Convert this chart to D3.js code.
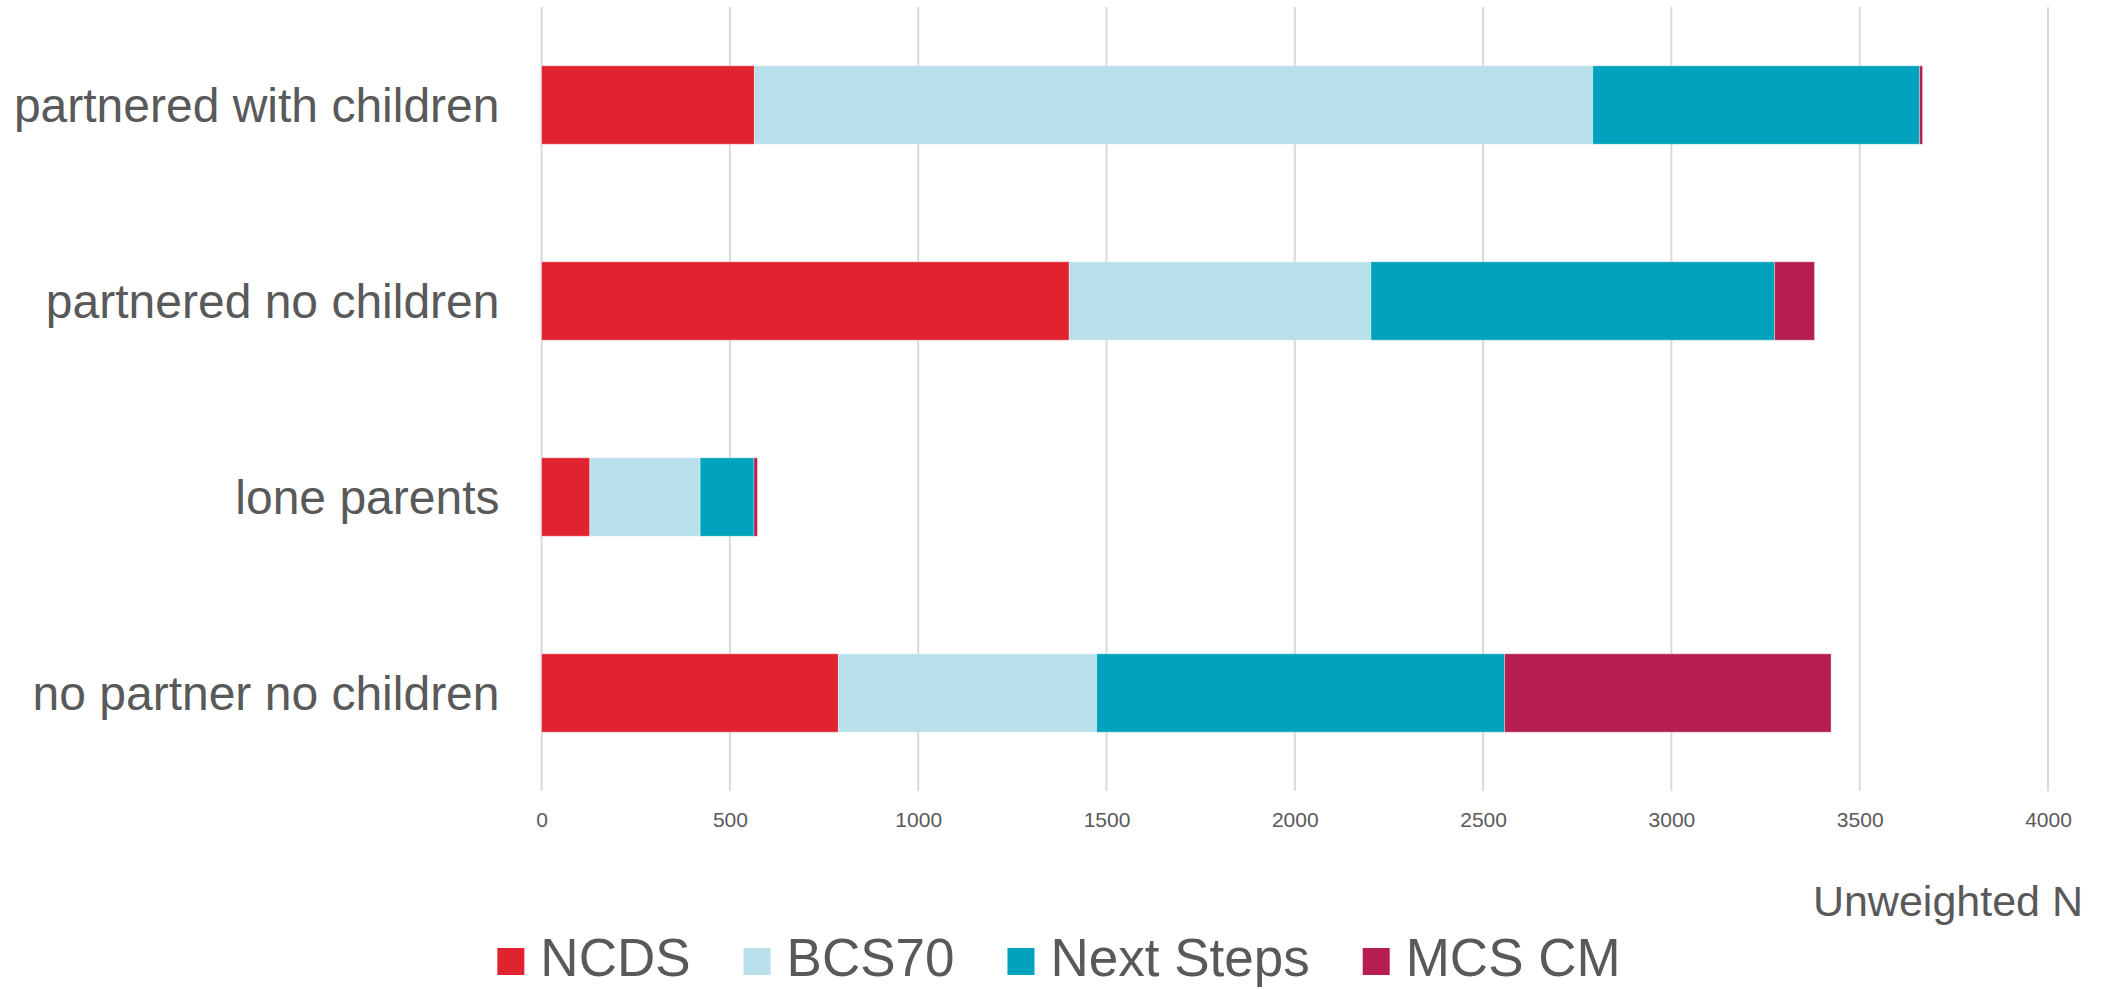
<!DOCTYPE html>
<html>
<head>
<meta charset="utf-8">
<script src="https://cdn.jsdelivr.net/npm/d3@7"></script>
<style>
  html, body { margin: 0; padding: 0; background: #fff; }
  svg { display: block; font-family: "Liberation Sans", Arial, sans-serif; }
</style>
</head>
<body>
<svg id="chart" width="2105" height="990"></svg>
<script>
// Household type groups, top to bottom
const categories = ["partnered with children", "partnered no children", "lone parents", "no partner no children"];

// Cohort studies stacked left to right
const seriesNames = ["NCDS", "BCS70", "Next Steps", "MCS CM"];
const seriesColors = ["#E1222F", "#B8E0EA", "#00A2BD", "#B51E4E"];

// Unweighted N per cohort, one value per household type
const ncds      = [565, 1401, 128, 788];
const bcs70     = [2226, 801, 293, 686];
const nextSteps = [868, 1072, 143, 1083];
const mcsCm     = [8, 106, 9, 867];

const xTicks = [0, 500, 1000, 1500, 2000, 2500, 3000, 3500, 4000];
const xTitle = "Unweighted N";

const textColor = "#595959";
const gridColor = "#D9D9D9";

const svg = d3.select("#chart");

const seriesValues = [ncds, bcs70, nextSteps, mcsCm];
const rows = categories.map((c, i) => {
  const r = { category: c };
  seriesNames.forEach((s, j) => { r[s] = seriesValues[j][i]; });
  return r;
});

const x = d3.scaleLinear().domain([0, 4000]).range([541.6, 2048]);
const y = d3.scaleBand().domain(categories).range([7, 791]).paddingInner(0.6).paddingOuter(0.3);

// vertical gridlines
svg.append("g")
  .selectAll("line")
  .data(xTicks)
  .join("line")
  .attr("x1", d => x(d)).attr("x2", d => x(d))
  .attr("y1", 7).attr("y2", 791)
  .attr("stroke", gridColor)
  .attr("stroke-width", 2);

// x axis tick labels
const xAxis = d3.axisBottom(x).tickValues(xTicks).tickSize(0).tickPadding(0).tickFormat(d3.format("d"));
const xg = svg.append("g").attr("transform", "translate(0,812)").call(xAxis);
xg.select(".domain").remove();
xg.selectAll("text")
  .attr("dy", "0.71em")
  .attr("font-size", 21)
  .attr("font-family", "Liberation Sans, Arial, sans-serif")
  .attr("fill", textColor);

// category labels
const yAxis = d3.axisLeft(y).tickSize(0).tickPadding(0);
const yg = svg.append("g").attr("transform", "translate(499.5,0)").call(yAxis);
yg.select(".domain").remove();
yg.selectAll("text")
  .attr("dy", "0.36em")
  .attr("font-size", 48)
  .attr("font-family", "Liberation Sans, Arial, sans-serif")
  .attr("fill", textColor);

// stacked bars
const stack = d3.stack().keys(seriesNames);
const layers = stack(rows);
const color = d3.scaleOrdinal().domain(seriesNames).range(seriesColors);

svg.append("g")
  .selectAll("g")
  .data(layers)
  .join("g")
  .attr("fill", d => color(d.key))
  .selectAll("rect")
  .data(d => d)
  .join("rect")
  .attr("x", d => x(d[0]))
  .attr("y", d => y(d.data.category))
  .attr("width", d => x(d[1]) - x(d[0]))
  .attr("height", y.bandwidth())
  .attr("stroke", "#fff")
  .attr("stroke-opacity", 0.35)
  .attr("stroke-width", 1);

// axis title
svg.append("text")
  .attr("x", 2083)
  .attr("y", 916)
  .attr("text-anchor", "end")
  .attr("font-size", 43)
  .attr("fill", textColor)
  .text(xTitle);

// legend, centred under the chart
const legend = svg.append("g");
const swatch = 27, gapText = 16, gapItem = 53, legendFont = 53;
let cursor = 0;
seriesNames.forEach((name, i) => {
  const item = legend.append("g").attr("transform", `translate(${cursor},0)`);
  item.append("rect")
    .attr("x", 0).attr("y", 948)
    .attr("width", swatch).attr("height", swatch)
    .attr("fill", seriesColors[i]);
  const t = item.append("text")
    .attr("x", swatch + gapText)
    .attr("y", 976)
    .attr("font-size", legendFont)
    .attr("fill", textColor)
    .text(name);
  cursor += swatch + gapText + t.node().getComputedTextLength() + gapItem;
});
const legendWidth = cursor - gapItem;
legend.attr("transform", `translate(${1059 - legendWidth / 2},0)`);
</script>
</body>
</html>
